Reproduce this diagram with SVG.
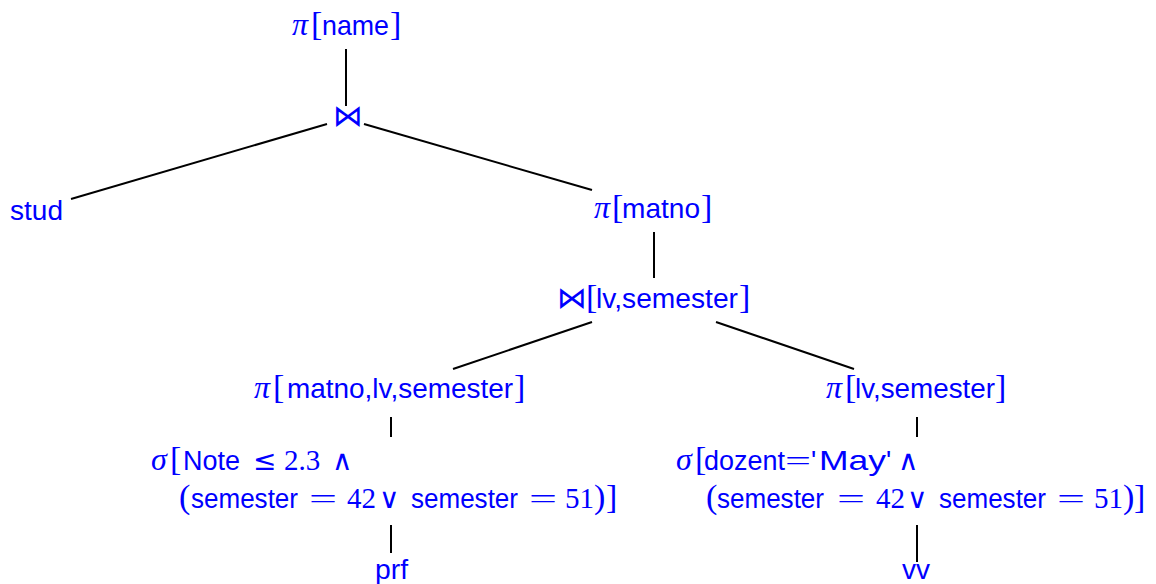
<svg xmlns="http://www.w3.org/2000/svg" width="1156" height="584" viewBox="0 0 1156 584">
<style>
text{fill:#0000ff;font-size:27px}
.w{font-family:"Liberation Sans",Arial,sans-serif;font-size:27.5px}
.m{font-family:"Liberation Serif","DejaVu Serif",serif;font-size:28px}
.d{font-family:"Liberation Serif","DejaVu Serif",serif;font-size:29px}
.k{font-family:"Liberation Serif","DejaVu Serif",serif;font-size:34px}
.i{font-family:"Liberation Serif","DejaVu Serif",serif;font-style:italic;font-size:32px}
.s{font-family:"DejaVu Sans","DejaVu Serif",sans-serif;font-size:28px}
.b{font-family:"DejaVu Sans",sans-serif;font-size:30px}
#edges line{stroke:#000;stroke-width:2;stroke-linecap:butt}
</style>
<rect width="1156" height="584" fill="#fff"/>
<g id="edges">
<line x1="346" y1="49" x2="346" y2="106"/>
<line x1="327" y1="124" x2="71" y2="199"/>
<line x1="364" y1="124" x2="592" y2="190"/>
<line x1="654" y1="232" x2="654" y2="278"/>
<line x1="592" y1="322" x2="453" y2="369"/>
<line x1="716" y1="322" x2="854" y2="369"/>
<line x1="391" y1="417" x2="391" y2="437"/>
<line x1="391" y1="525" x2="391" y2="553"/>
<line x1="917" y1="417" x2="917" y2="437"/>
<line x1="917" y1="525" x2="917" y2="562"/>
</g>
<g id="n-proj-name"><text y="35"><tspan class="i" x="292">π</tspan><tspan class="k" x="311">[</tspan><tspan class="w" x="322" textLength="67" lengthAdjust="spacingAndGlyphs">name</tspan><tspan class="k" x="390">]</tspan></text></g>
<g id="n-join1"><text class="b" x="333" y="126">⋈</text></g>
<g id="n-stud"><text class="w" x="10" y="220" textLength="53" lengthAdjust="spacingAndGlyphs">stud</text></g>
<g id="n-proj-matno"><text y="218"><tspan class="i" x="594">π</tspan><tspan class="k" x="612">[</tspan><tspan class="w" x="622" textLength="78" lengthAdjust="spacingAndGlyphs">matno</tspan><tspan class="k" x="701">]</tspan></text></g>
<g id="n-join2"><text y="308"><tspan class="b" x="557">⋈</tspan><tspan class="k" x="586">[</tspan><tspan class="w" x="596" textLength="142" lengthAdjust="spacingAndGlyphs">lv,semester</tspan><tspan class="k" x="739">]</tspan></text></g>
<g id="n-proj-left"><text y="398"><tspan class="i" x="254">π</tspan><tspan class="k" x="273">[</tspan><tspan class="w" x="287" textLength="226" lengthAdjust="spacingAndGlyphs">matno,lv,semester</tspan><tspan class="k" x="514">]</tspan></text></g>
<g id="n-sel-left">
<text y="470"><tspan class="i" x="151">σ</tspan><tspan class="k" x="170">[</tspan><tspan class="w" x="183" textLength="57" lengthAdjust="spacingAndGlyphs">Note</tspan><tspan class="s" x="253" font-size="30">≤</tspan><tspan class="d" x="284">2.3</tspan><tspan class="s" x="332">∧</tspan></text>
<text y="508"><tspan class="k" x="179">(</tspan><tspan class="w" x="191" textLength="107" lengthAdjust="spacingAndGlyphs">semester</tspan><tspan class="m" x="309" textLength="28" lengthAdjust="spacingAndGlyphs">=</tspan><tspan class="d" x="347">42</tspan><tspan class="s" x="379">∨</tspan><tspan class="w" x="411" textLength="107" lengthAdjust="spacingAndGlyphs">semester</tspan><tspan class="m" x="529" textLength="28" lengthAdjust="spacingAndGlyphs">=</tspan><tspan class="d" x="565">51</tspan><tspan class="k" x="594">)</tspan><tspan class="k" x="606">]</tspan></text>
</g>
<g id="n-prf"><text class="w" x="375" y="579" textLength="33" lengthAdjust="spacingAndGlyphs">prf</text></g>
<g id="n-proj-right"><text y="398"><tspan class="i" x="826">π</tspan><tspan class="k" x="845">[</tspan><tspan class="w" x="855" textLength="140" lengthAdjust="spacingAndGlyphs">lv,semester</tspan><tspan class="k" x="995">]</tspan></text></g>
<g id="n-sel-right">
<text y="470"><tspan class="i" x="676">σ</tspan><tspan class="k" x="695">[</tspan><tspan class="w" x="704" textLength="81" lengthAdjust="spacingAndGlyphs">dozent</tspan><tspan class="m" x="785" textLength="26" lengthAdjust="spacingAndGlyphs">=</tspan><tspan class="w" x="811">'</tspan><tspan class="w" x="819" textLength="67" lengthAdjust="spacingAndGlyphs">May</tspan><tspan class="w" x="886">'</tspan><tspan class="s" x="898">∧</tspan></text>
<text y="508"><tspan class="k" x="706">(</tspan><tspan class="w" x="717" textLength="107" lengthAdjust="spacingAndGlyphs">semester</tspan><tspan class="m" x="837" textLength="28" lengthAdjust="spacingAndGlyphs">=</tspan><tspan class="d" x="876">42</tspan><tspan class="s" x="907">∨</tspan><tspan class="w" x="939" textLength="107" lengthAdjust="spacingAndGlyphs">semester</tspan><tspan class="m" x="1057" textLength="28" lengthAdjust="spacingAndGlyphs">=</tspan><tspan class="d" x="1094">51</tspan><tspan class="k" x="1123">)</tspan><tspan class="k" x="1134">]</tspan></text>
</g>
<g id="n-vv"><text class="w" x="902" y="579" textLength="28" lengthAdjust="spacingAndGlyphs">vv</text></g>
</svg>
